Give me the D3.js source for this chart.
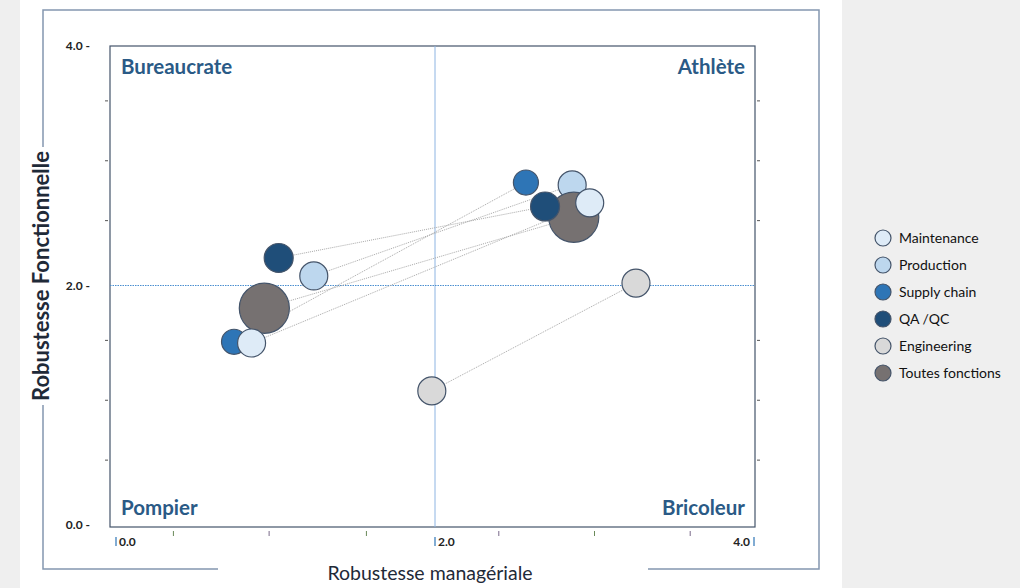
<!DOCTYPE html>
<html>
<head>
<meta charset="utf-8">
<script src="https://cdn.jsdelivr.net/npm/d3@7"></script>
<style>
  html, body { margin: 0; padding: 0; background: #efefef; }
  svg { display: block; font-family: Lato, "Open Sans", sans-serif; }
</style>
</head>
<body>
<svg width="1020" height="588"></svg>
<script>
// series, in legend order
var series = ['Maintenance', 'Production', 'Supply chain', 'QA /QC', 'Engineering', 'Toutes fonctions'];
var colors = ['#deebf7', '#bdd7ee', '#2e75b6', '#1f4e79', '#d9d9d9', '#767171'];
// first position (left) and second position (right) of each bubble
var xBefore = [0.85, 1.24, 0.74, 1.02, 1.98, 0.93];
var yBefore = [1.52, 2.08, 1.53, 2.23, 1.12, 1.81];
var xAfter  = [2.97, 2.86, 2.57, 2.69, 3.26, 2.87];
var yAfter  = [2.69, 2.84, 2.86, 2.66, 2.02, 2.57];
var weight  = [1, 1, 0.8, 1.07, 1, 3.2];
// drawing order (which bubble sits on top)
var drawOrder = [4, 2, 1, 5, 3, 0];

var quadrants = ['Bureaucrate', 'Athlète', 'Pompier', 'Bricoleur'];
var xTicks = [0, 2, 4];
var yTicks = [0, 2, 4];
var xMinor = [0.36, 0.96, 1.57, 2.4, 3.0, 3.6];
var yMinor = [0.5, 1, 1.5, 2.5, 3, 3.5];

var svg = d3.select('svg');

// white page area
svg.append('rect').attr('x', 20).attr('y', 0).attr('width', 822).attr('height', 588).attr('fill', '#fff');

var x = d3.scaleLinear().domain([0, 4]).range([116, 754]);
var y = d3.scaleLinear().domain([0, 4]).range([525, 46]);
var r = d3.scaleSqrt().domain([0, 1]).range([0, 14]);

// outer frame (with gaps for titles)
var frame = svg.append('g').attr('stroke', '#8497b0').attr('stroke-width', 1.5).attr('fill', 'none');
frame.append('path').attr('d', 'M43,147 L43,10 L819,10 L819,569 L648,569');
frame.append('path').attr('d', 'M218,569 L43,569 L43,405');

// plot box
svg.append('rect').attr('x', 110).attr('y', 46).attr('width', 645).attr('height', 481)
  .attr('fill', 'none').attr('stroke', '#44546a').attr('stroke-width', 1.2);

// quadrant lines
svg.append('line').attr('x1', x(2)).attr('x2', x(2)).attr('y1', 46).attr('y2', 527)
  .attr('stroke', '#8db4e2').attr('stroke-width', 1);
svg.append('line').attr('x1', 110).attr('x2', 755).attr('y1', y(2)).attr('y2', y(2))
  .attr('stroke', '#4a8fd0').attr('stroke-width', 1).attr('stroke-dasharray', '1.5,1');

// y ticks
svg.selectAll('.ylab').data(yTicks).enter().append('text')
  .attr('x', 90).attr('y', function(d){ return y(d) + 4; })
  .attr('text-anchor', 'end').attr('font-size', 12).attr('font-weight', 'bold').attr('fill', '#222')
  .text(function(d){ return d.toFixed(1) + ' -'; });
svg.selectAll('.yminL').data(yMinor).enter().append('line')
  .attr('x1', 105).attr('x2', 108).attr('y1', function(d){ return y(d) - 5; }).attr('y2', function(d){ return y(d) - 5; })
  .attr('stroke', '#555');
svg.selectAll('.yminR').data(yMinor).enter().append('line')
  .attr('x1', 757).attr('x2', 760).attr('y1', function(d){ return y(d) - 5; }).attr('y2', function(d){ return y(d) - 5; })
  .attr('stroke', '#555');

// x ticks
svg.selectAll('.xtick').data(xTicks).enter().append('line')
  .attr('x1', function(d){ return x(d); }).attr('x2', function(d){ return x(d); })
  .attr('y1', 537).attr('y2', 546).attr('stroke', '#2e75b6').attr('stroke-width', 1.2);
svg.selectAll('.xlab').data(xTicks).enter().append('text')
  .attr('x', function(d){ return d == 4 ? x(d) - 4 : x(d) + 3; })
  .attr('y', 546)
  .attr('text-anchor', function(d){ return d == 4 ? 'end' : 'start'; })
  .attr('font-size', 12).attr('font-weight', 'bold').attr('fill', '#222')
  .text(function(d){ return d.toFixed(1); });
svg.selectAll('.xmin').data(xMinor).enter().append('line')
  .attr('x1', function(d){ return x(d); }).attr('x2', function(d){ return x(d); })
  .attr('y1', 531).attr('y2', 536)
  .attr('stroke', function(d, i){ return i % 2 ? '#7a6a8a' : '#6a8a5a'; });

// quadrant names
var qpos = [[121, 74, 'start'], [745, 74, 'end'], [121, 515, 'start'], [745, 515, 'end']];
svg.selectAll('.quad').data(quadrants).enter().append('text')
  .attr('x', function(d, i){ return qpos[i][0]; })
  .attr('y', function(d, i){ return qpos[i][1]; })
  .attr('text-anchor', function(d, i){ return qpos[i][2]; })
  .attr('font-size', 20.5).attr('font-weight', 'bold').attr('fill', '#2a5a86')
  .text(function(d){ return d; });

// axis titles
svg.append('text').attr('x', 430).attr('y', 580).attr('text-anchor', 'middle')
  .attr('font-size', 19.5).attr('fill', '#1f2a38').text('Robustesse managériale');
svg.append('text').attr('transform', 'translate(49,276) rotate(-90)').attr('text-anchor', 'middle')
  .attr('font-size', 22).attr('font-weight', 'bold').attr('fill', '#1f2a38').text('Robustesse Fonctionnelle');

// connecting lines
svg.selectAll('.link').data(series).enter().append('line')
  .attr('x1', function(d, i){ return x(xBefore[i]); })
  .attr('y1', function(d, i){ return y(yBefore[i]); })
  .attr('x2', function(d, i){ return x(xAfter[i]); })
  .attr('y2', function(d, i){ return y(yAfter[i]); })
  .attr('stroke', '#a8a8a8').attr('stroke-width', 1).attr('stroke-dasharray', '1,1');

// bubbles
drawOrder.forEach(function(i){
  [[xBefore[i], yBefore[i]], [xAfter[i], yAfter[i]]].forEach(function(p){
    svg.append('circle')
      .attr('cx', x(p[0])).attr('cy', y(p[1])).attr('r', r(weight[i]))
      .attr('fill', colors[i]).attr('stroke', '#44546a').attr('stroke-width', 1.2);
  });
});

// legend
var legend = svg.selectAll('.leg').data(series).enter().append('g')
  .attr('transform', function(d, i){ return 'translate(883,' + (238 + i * 27) + ')'; });
legend.append('circle').attr('r', 8)
  .attr('fill', function(d, i){ return colors[i]; })
  .attr('stroke', '#44546a').attr('stroke-width', 1.2);
legend.append('text').attr('x', 16).attr('y', 5).attr('font-size', 14).attr('fill', '#111')
  .text(function(d){ return d; });
</script>
</body>
</html>
